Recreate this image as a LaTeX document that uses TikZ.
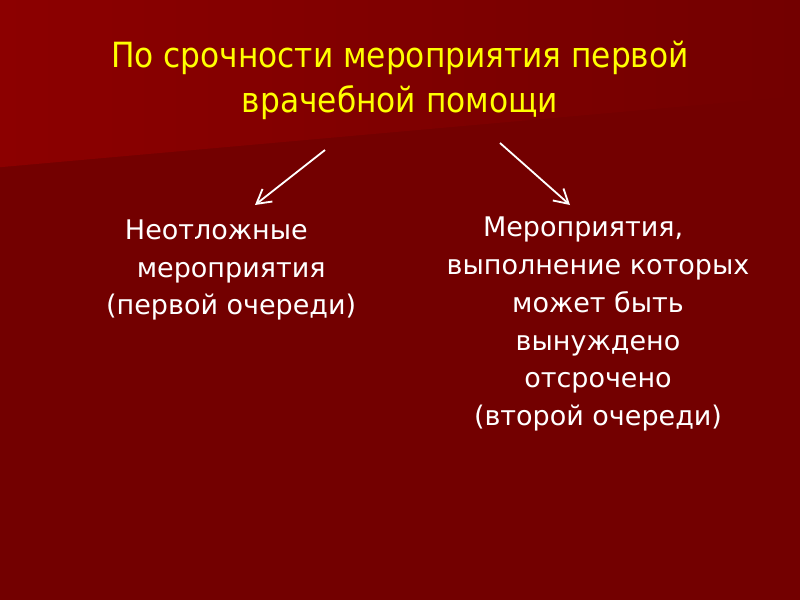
\documentclass[tikz,border=0pt]{standalone}
\usepackage{fontspec}
\setmainfont{DejaVu Sans}
\newfontfamily\titlefont{DejaVu Sans Condensed}
\usepackage{tikz}
\usetikzlibrary{calc,arrows.meta}

\definecolor{bgdark}{HTML}{730000}
\definecolor{bglight}{HTML}{8C0000}
\definecolor{titleyel}{HTML}{FFFF00}

\tikzset{
    heading/.style={text=titleyel, align=center, font=\titlefont\fontsize{24.7}{32}\selectfont},
    branch/.style={text=white, align=center, font=\fontsize{19.2}{27}\selectfont},
    pointer/.style={draw=white, line width=1.3pt, -{Straight Barb[length=3.5mm,width=4mm,line width=1.3pt]}}
}

\begin{document}
\begin{tikzpicture}[inner sep=0pt,outer sep=0pt]
    % background
    \fill[bgdark] (0,0) rectangle (20,-15);
    \shade[left color=bglight, right color=bgdark] (0,0) -- (20,0) -- (20,-2.4) -- (0,-4.18) -- cycle;
    \useasboundingbox (0,0) rectangle (20,-15);
    % 
    \node[heading] (title) at (10,-2.0)
    {По срочности мероприятия первой\\ врачебной помощи};
    \node[branch] (urgent) at (5.78,-6.75)
    {Неотложные\hspace*{1.1em}\\ мероприятия\\ (первой очереди)};
    \node[branch] (delayed) at (14.95,-8.1)
    {Мероприятия,\hspace*{1.1em}\\ выполнение которых\\ может быть\\ вынуждено\\ отсрочено\\ (второй очереди)};
    % 
    \coordinate (lstart) at (8.125,-3.75);
    \coordinate (lend) at (6.375,-5.125);
    \coordinate (rstart) at (12.5,-3.575);
    \coordinate (rend) at (14.25,-5.125);
    \draw[pointer] (lstart) -- (lend);
    \draw[pointer] (rstart) -- (rend);
\end{tikzpicture}
\end{document}
